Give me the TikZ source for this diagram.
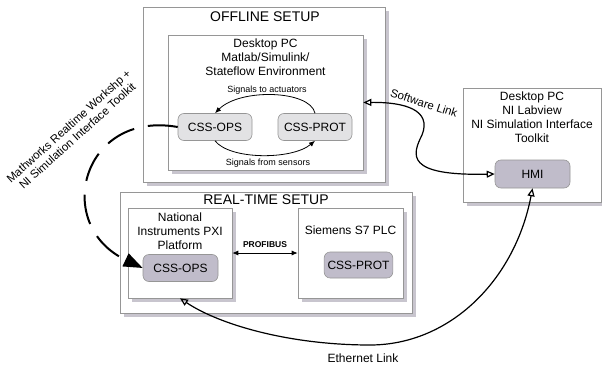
\documentclass[tikz,border=0pt]{standalone}
\usepackage{fontspec}
\setmainfont{Liberation Sans}
\usetikzlibrary{arrows.meta,positioning,shadows}

\definecolor{boxline}{RGB}{150,150,150}
\definecolor{shadowc}{RGB}{200,197,206}
\definecolor{cssfillA}{RGB}{226,226,228}
\definecolor{cssfillB}{RGB}{192,188,202}

\tikzset{
  setupbox/.style={draw=boxline, fill=white, line width=0.6pt, inner sep=0pt,
    drop shadow={shadow xshift=3.5pt, shadow yshift=-3.5pt, fill=shadowc, opacity=1}},
  cssbox/.style={draw=boxline, line width=0.6pt, rounded corners=6pt,
    minimum width=74pt, minimum height=27pt},
  boxtext/.style={align=center, inner sep=3pt},
  titletext/.style={font=\fontsize{14}{16}\selectfont},
  smalltext/.style={font=\fontsize{9}{11}\selectfont},
  signal/.style={line width=0.8pt, -{Latex[length=6pt,width=5pt]}},
  hwlink/.style={line width=1.2pt, {Triangle[open,length=8pt,width=7pt]}-{Triangle[open,length=8pt,width=7pt]}},
}

\begin{document}
\begin{tikzpicture}[x=1pt, y=-1pt, font=\fontsize{12}{14}\selectfont]
\useasboundingbox (0,0) rectangle (602,364);

% offline setup
\node[setupbox, minimum width=242pt, minimum height=175pt] (offout) at (264,94.5) {};
\node[titletext] (offtitle) at (265,17) {OFFLINE SETUP};
\node[setupbox, minimum width=195pt, minimum height=135pt] (offin) at (265.5,102.5) {};
\node[boxtext, below=1pt of offin.north] (offtext) {Desktop PC\\Matlab/Simulink/\\Stateflow Environment};
\node[cssbox, fill=cssfillA] (opsA) at (215,127) {CSS-OPS};
\node[cssbox, fill=cssfillA] (protA) at (315,127) {CSS-PROT};
\node[smalltext] (toact) at (267,90) {Signals to actuators};
\node[smalltext] (fromsens) at (268,163) {Signals from sensors};
\draw[signal] (protA.north) .. controls (310,90) and (240,88) .. (opsA.north);
\draw[signal] (opsA.south) .. controls (230,160) and (292,160) .. (protA.south);

% real-time setup
\node[setupbox, minimum width=292pt, minimum height=121pt] (rtout) at (266,252.5) {};
\node[titletext] (rttitle) at (266,200) {REAL-TIME SETUP};
\node[setupbox, minimum width=104pt, minimum height=90pt] (nibox) at (180,253) {};
\node[boxtext, below=2pt of nibox.north] (nitext) {National\\Instruments PXI\\Platform};
\node[cssbox, fill=cssfillB, minimum width=75pt] (opsB) at (180.5,268) {CSS-OPS};
\node[setupbox, minimum width=105pt, minimum height=90pt] (plcbox) at (350.5,253) {};
\node (plctext) at (350.5,230) {Siemens S7 PLC};
\node[cssbox, fill=cssfillB, minimum width=67pt, minimum height=26pt] (protB) at (358.5,265) {CSS-PROT};
\draw[line width=0.8pt, {Latex[length=6pt,width=5pt]}-{Latex[length=6pt,width=5pt]}] (nibox.east) -- (plcbox.west)
  node[midway, above=2pt, font=\bfseries\fontsize{8.5}{10}\selectfont] (profibus) {PROFIBUS};

% HMI pc
\node[setupbox, minimum width=138pt, minimum height=114pt] (hmibox) at (532,145) {};
\node[boxtext, below=1pt of hmibox.north] (hmitext) {Desktop PC\\NI Labview\\NI Simulation Interface\\Toolkit};
\node[cssbox, fill=cssfillB, minimum width=75pt, minimum height=28pt] (hmi) at (532.5,174) {HMI};

% links
\draw[hwlink] (offin.east) .. controls (405,102) and (432,110) .. (422,135)
  .. controls (412,155) and (405,176) .. (hmi.west);
\node[rotate=-18, font=\fontsize{11.5}{13}\selectfont] (swlabel) at (424,103) {Software Link};
\draw[hwlink] (hmi.south) .. controls (515,280) and (450,345) .. (370,345)
  .. controls (290,345) and (220,325) .. (nibox.south);
\node (ethlabel) at (363,358) {Ethernet Link};
\draw[line width=2pt, dash pattern=on 30pt off 14pt, -{Triangle[length=19pt,width=14pt]}]
  (opsA.west) .. controls (82,110) and (52,225) .. (opsB.west);
\node[rotate=42, align=center, font=\fontsize{11.5}{13}\selectfont] (mwlabel) at (73,131)
  {Mathworks Realtime Workshp +\\NI Simulation Interface Toolkit};

\end{tikzpicture}
\end{document}
